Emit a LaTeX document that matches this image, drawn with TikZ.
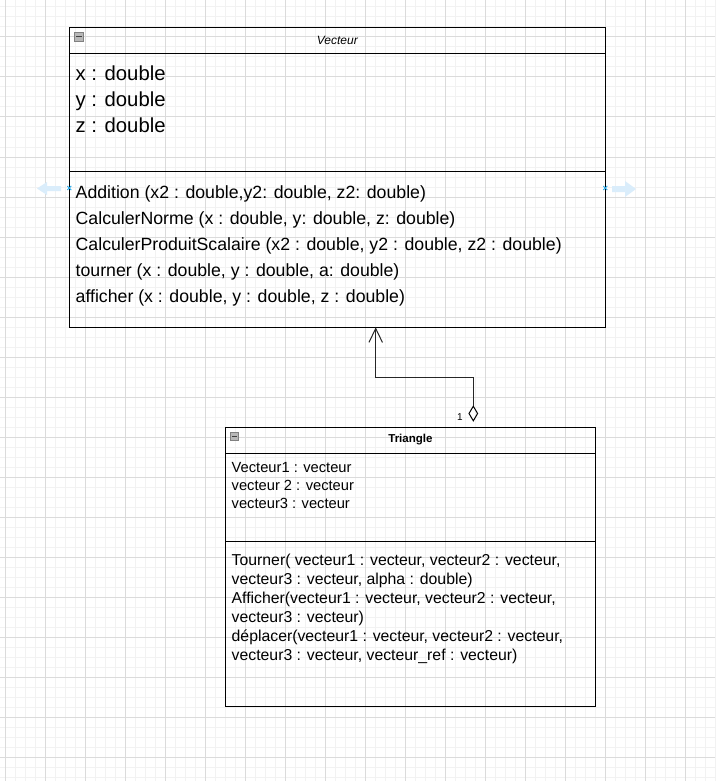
\documentclass[tikz,border=0pt]{standalone}
\usepackage{fontspec}
\setmainfont{Liberation Sans}
\usetikzlibrary{arrows.meta,shapes.geometric}
\definecolor{indice}{RGB}{218,237,251}
\definecolor{croix}{RGB}{41,170,235}

\begin{document}
\begin{tikzpicture}[x=1pt,y=-1pt]
\tikzstyle{every node}+=[inner sep=0pt]
\tikzstyle{gridfin}=[draw=black!5,line width=1pt]
\tikzstyle{gridfort}=[draw=black!14,line width=1pt]
\tikzstyle{classe}=[draw=black,line width=1pt,outer sep=0pt,anchor=north west]
\tikzstyle{icone}=[draw=black!50,fill=black!28,line width=0.8pt,minimum size=8.4pt,anchor=north west]
\tikzstyle{texte}=[anchor=base west,align=left]
\tikzstyle{lien}=[draw=black!85,line width=1pt]
\useasboundingbox (0,0) rectangle (715,781);
\fill [white] (0,0) rectangle (715,781);
\foreach \x in {5,15,...,715} \draw [gridfin] (\x,0) -- (\x,781);
\foreach \y in {7,17,...,781} \draw [gridfin] (0,\y) -- (715,\y);
\foreach \x in {5,45,...,715} \draw [gridfort] (\x,0) -- (\x,781);
\foreach \y in {37,77,...,781} \draw [gridfort] (0,\y) -- (715,\y);
\fill [indice] (37,188.5) -- (47,182) -- (47,186) -- (61,186) -- (61,191) -- (47,191) -- (47,195) -- cycle;
\fill [indice] (636,189) -- (625,181) -- (625,186) -- (612,186) -- (612,192) -- (625,192) -- (625,197) -- cycle;
\node (vecteur) [classe,minimum width=536pt,minimum height=300pt] at (69.3,27.3) {};
\draw [line width=1pt] ([yshift=-26pt]vecteur.north west) -- ([yshift=-26pt]vecteur.north east);
\draw [line width=1pt] ([yshift=-144pt]vecteur.north west) -- ([yshift=-144pt]vecteur.north east);
\node (iconev) [icone] at (74.3,32.3) {};
\draw [black!75,line width=1pt] ([xshift=2pt]iconev.west) -- ([xshift=-2pt]iconev.east);
\node (nomv) [anchor=base,font=\fontsize{12}{14}\selectfont\itshape] at (337.3,45) {Vecteur};
\node (attrv) [texte,font=\fontsize{20.3}{26}\selectfont] at (75.5,132) {x : double\\y : double\\z : double};
\node (methv) [texte,font=\fontsize{17.7}{26}\selectfont] at (75.5,302.5) {Addition (x2 : double,y2: double, z2: double)\\CalculerNorme (x : double, y: double, z: double)\\CalculerProduitScalaire (x2 : double, y2 : double, z2 : double)\\tourner (x : double, y : double, a: double)\\afficher (x : double, y : double, z : double)};
\draw [croix,line width=0.8pt] ([shift={(-2pt,-2pt)}]vecteur.west |- 0,188) -- ++(4pt,4pt) ++(-4pt,0) -- ++(4pt,-4pt);
\draw [croix,line width=0.8pt] ([shift={(-2pt,-2pt)}]vecteur.east |- 0,188) -- ++(4pt,4pt) ++(-4pt,0) -- ++(4pt,-4pt);
\node (triangle) [classe,minimum width=369.8pt,minimum height=279.4pt] at (225.5,427.3) {};
\draw [line width=1pt] ([yshift=-26pt]triangle.north west) -- ([yshift=-26pt]triangle.north east);
\draw [line width=1pt] ([yshift=-114pt]triangle.north west) -- ([yshift=-114pt]triangle.north east);
\node (iconet) [icone] at (230,431.5) {};
\draw [black!75,line width=1pt] ([xshift=2pt]iconet.west) -- ([xshift=-2pt]iconet.east);
\node (nomt) [anchor=base,font=\fontsize{11.5}{14}\selectfont\bfseries] at (410.4,442.8) {Triangle};
\node (attrt) [texte,font=\fontsize{14.7}{18}\selectfont] at (231.5,508) {Vecteur1 : vecteur\\vecteur 2 : vecteur\\vecteur3 : vecteur};
\node (metht) [texte,font=\fontsize{15.8}{19}\selectfont] at (231.5,660.5) {Tourner( vecteur1 : vecteur, vecteur2 : vecteur,\\vecteur3 : vecteur, alpha : double)\\Afficher(vecteur1 : vecteur, vecteur2 : vecteur,\\vecteur3 : vecteur)\\déplacer(vecteur1 : vecteur, vecteur2 : vecteur,\\vecteur3 : vecteur, vecteur\_ref : vecteur)};
\node (losange) [diamond,draw=black,line width=1pt,minimum width=9pt,minimum height=15pt] at (473.3,413.5) {};
\coordinate (coude) at (375.7,377.7);
\draw [lien,-{Straight Barb[length=14pt,width=13.5pt]}] (losange.north) |- (coude) -- (coude |- vecteur.south);
\node (mult) [anchor=base,font=\fontsize{10}{12}\selectfont] at (460,420) {1};
\end{tikzpicture}
\end{document}
